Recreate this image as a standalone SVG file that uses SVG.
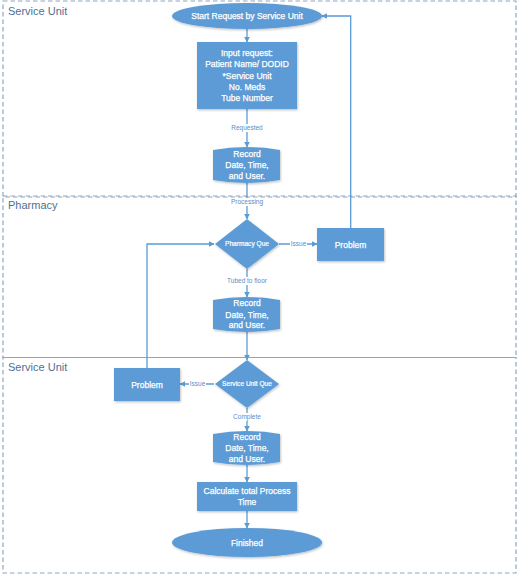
<svg xmlns="http://www.w3.org/2000/svg" width="520" height="578" viewBox="0 0 520 578">
<style>
.lane{fill:none;stroke:#8ea6c0;stroke-width:1.2;stroke-dasharray:4.5 3}
.lanelbl{font-family:"Liberation Sans",Arial,sans-serif;font-size:11px;fill:#4f6f93}
.node{fill:#5b9bd5;filter:url(#sh)}
.nt{font-family:"Liberation Sans",Arial,sans-serif;font-size:8.5px;fill:#ffffff;stroke:#ffffff;stroke-width:0.25;text-anchor:middle}
.dt{font-family:"Liberation Sans",Arial,sans-serif;font-size:6.6px;fill:#ffffff;stroke:#ffffff;stroke-width:0.2;text-anchor:middle}
.edge{fill:none;stroke:#5b9bd5;stroke-width:1.3;marker-end:url(#ah)}
.el{font-family:"Liberation Sans",Arial,sans-serif;font-size:6.5px;fill:#5a8ec6;text-anchor:middle}
.elbg{fill:#ffffff}
</style>
<defs>
<marker id="ah" viewBox="0 0 10 10" refX="9" refY="5" markerWidth="4.5" markerHeight="4.5" orient="auto" markerUnits="strokeWidth">
<path d="M0,0 L10,5 L0,10 z" fill="#5b9bd5"/>
</marker>
<filter id="sh" x="-20%" y="-20%" width="140%" height="150%">
<feDropShadow dx="0.8" dy="1.2" stdDeviation="1" flood-color="#000" flood-opacity="0.25"/>
</filter>
</defs>
<rect width="520" height="578" fill="#ffffff"/>
<g id="lanes">
<rect class="lane" x="3" y="1" width="513" height="196"/>
<rect class="lane" x="3" y="196" width="513" height="161.5"/>
<rect class="lane" x="3" y="357.5" width="513" height="215.5"/>
<line x1="3" y1="357.5" x2="516" y2="357.5" stroke="#8ea6c0" stroke-width="1"/>
<text class="lanelbl" x="8" y="15">Service Unit</text>
<text class="lanelbl" x="8" y="209">Pharmacy</text>
<text class="lanelbl" x="8" y="371">Service Unit</text>
</g>
<g id="connectors">
<path class="edge" d="M247,29 V42"/>
<path class="edge" d="M247,109 V147"/>
<path class="edge" d="M247,183 V219"/>
<path class="edge" d="M279,244 H317"/>
<path class="edge" d="M350.7,228 V16 H322"/>
<path class="edge" d="M247,269 V297"/>
<path class="edge" d="M247,332 V360"/>
<path class="edge" d="M214,384 H180"/>
<path class="edge" d="M147,368 V244 H214"/>
<path class="edge" d="M247,408 V431"/>
<path class="edge" d="M247,465 V482"/>
<path class="edge" d="M247,511 V528"/>
<rect class="elbg" x="230" y="124" width="34" height="8"/>
<text class="el" x="247" y="130.3">Requested</text>
<rect class="elbg" x="230" y="198" width="34" height="8"/>
<text class="el" x="247" y="204">Processing</text>
<rect class="elbg" x="290" y="240" width="17" height="8"/>
<text class="el" x="298.5" y="246.3">Issue</text>
<rect class="elbg" x="224" y="277" width="46" height="8"/>
<text class="el" x="247" y="283.3">Tubed to floor</text>
<rect class="elbg" x="189" y="380" width="17" height="8"/>
<text class="el" x="197.5" y="386.3">Issue</text>
<rect class="elbg" x="232" y="413" width="30" height="8"/>
<text class="el" x="247" y="419">Complete</text>
</g>
<g id="start">
<ellipse class="node" cx="247" cy="16" rx="75" ry="13"/>
<text class="nt" x="247" y="19">Start Request by Service Unit</text>
</g>
<g id="input">
<rect class="node" x="197" y="42" width="100" height="67"/>
<text class="nt" x="247" y="56">Input request:</text>
<text class="nt" x="247" y="67.3">Patient Name/ DODID</text>
<text class="nt" x="247" y="78.5">*Service Unit</text>
<text class="nt" x="247" y="89.5">No. Meds</text>
<text class="nt" x="247" y="100.5">Tube Number</text>
</g>
<g id="record1">
<path class="node" d="M213,150 Q246.5,144 280,150 V180 Q246.5,186 213,180 Z"/>
<text class="nt" x="247" y="157">Record</text>
<text class="nt" x="247" y="168">Date, Time,</text>
<text class="nt" x="247" y="179">and User.</text>
</g>
<g id="pharmacyQue">
<path class="node" d="M247,219 L279,244 L247,269 L215,244 Z"/>
<text class="dt" x="247" y="246.4">Pharmacy Que</text>
</g>
<g id="problem1">
<rect class="node" x="317" y="228" width="67" height="33"/>
<text class="nt" x="350.5" y="247.5">Problem</text>
</g>
<g id="record2">
<path class="node" d="M213,300 Q246.5,294 280,300 V329 Q246.5,335 213,329 Z"/>
<text class="nt" x="247" y="306">Record</text>
<text class="nt" x="247" y="317.5">Date, Time,</text>
<text class="nt" x="247" y="328">and User.</text>
</g>
<g id="serviceUnitQue">
<path class="node" d="M247,360 L279,384 L247,408 L215,384 Z"/>
<text class="dt" x="247" y="386.4">Service Unit Que</text>
</g>
<g id="problem2">
<rect class="node" x="114" y="368" width="66" height="33"/>
<text class="nt" x="147" y="387.5">Problem</text>
</g>
<g id="record3">
<path class="node" d="M213,434 Q246.5,428 280,434 V462 Q246.5,468 213,462 Z"/>
<text class="nt" x="247" y="440">Record</text>
<text class="nt" x="247" y="451">Date, Time,</text>
<text class="nt" x="247" y="462">and User.</text>
</g>
<g id="calculate">
<rect class="node" x="197" y="482" width="100" height="29"/>
<text class="nt" x="247" y="494">Calculate total Process</text>
<text class="nt" x="247" y="505">Time</text>
</g>
<g id="finished">
<ellipse class="node" cx="247" cy="542.5" rx="75" ry="14.5"/>
<text class="nt" x="247" y="545.5">Finished</text>
</g>
</svg>
